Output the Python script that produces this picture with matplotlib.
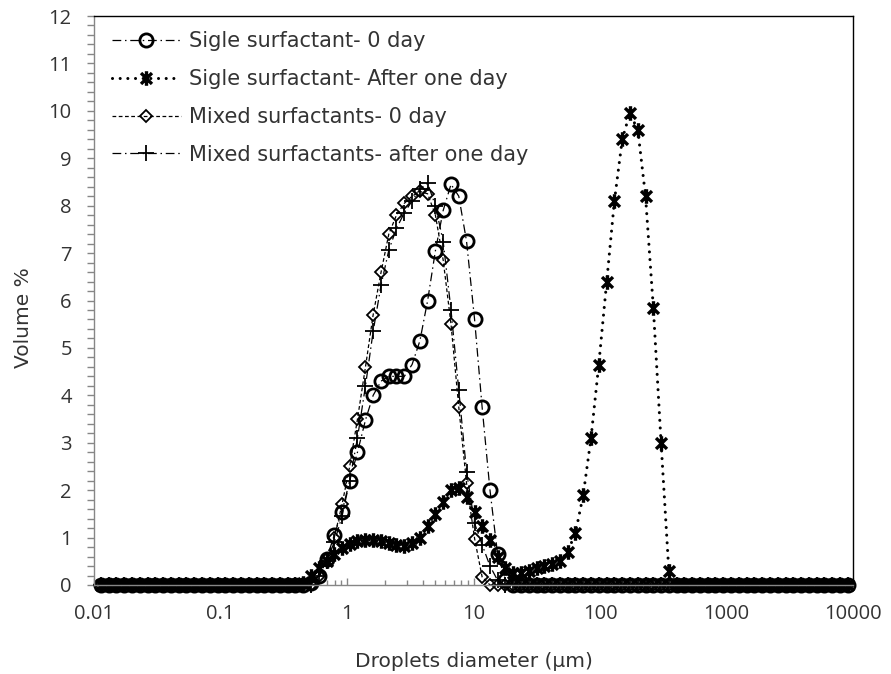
import matplotlib
matplotlib.use("Agg")
import matplotlib.pyplot as plt
from matplotlib.path import Path
from matplotlib import ticker

plt.rcParams['font.family'] = ['Open Sans', 'DejaVu Sans']

# size classes (um)
sizes = [0.0113, 0.0131, 0.0150, 0.0173, 0.0200, 0.0230, 0.0265, 0.0306, 0.0352, 0.0406,
         0.0467, 0.0538, 0.0620, 0.0715, 0.0823, 0.0948, 0.109, 0.126, 0.145, 0.167,
         0.193, 0.222, 0.256, 0.294, 0.339, 0.391, 0.450, 0.519, 0.598, 0.689,
         0.793, 0.914, 1.05, 1.21, 1.40, 1.61, 1.86, 2.14, 2.46, 2.84,
         3.27, 3.77, 4.34, 5.00, 5.76, 6.64, 7.65, 8.81, 10.2, 11.7,
         13.5, 15.5, 17.9, 20.6, 23.7, 27.4, 31.5, 36.3, 41.8, 48.2,
         55.5, 64.0, 73.7, 84.9, 97.8, 113, 130, 150, 172, 199,
         229, 264, 304, 350, 403, 465, 535, 617, 710, 818,
         943, 1086, 1252, 1442, 1662, 1914, 2206, 2541, 2928, 3373,
         3886, 4477, 5158, 5943, 6847, 7889, 9089]

single_0day = ([0.0] * 27 +
               [0.05, 0.2, 0.55, 1.05, 1.55, 2.2, 2.8, 3.48, 4.0, 4.3,
                4.4, 4.4, 4.4, 4.65, 5.15, 6.0, 7.05, 7.9, 8.45, 8.2,
                7.25, 5.6, 3.75, 2.0, 0.65, 0.1] +
               [0.0] * 44)
single_1day = ([0.0] * 26 +
               [0.05, 0.2, 0.35, 0.5, 0.65, 0.78, 0.87, 0.92, 0.95, 0.95,
                0.92, 0.88, 0.85, 0.83, 0.88, 1.0, 1.25, 1.5, 1.75, 2.0,
                2.05, 1.85, 1.55, 1.25, 0.95, 0.6, 0.35, 0.25, 0.25, 0.3,
                0.35, 0.4, 0.45, 0.5, 0.7, 1.1, 1.9, 3.1, 4.65, 6.4,
                8.1, 9.4, 9.95, 9.6, 8.2, 5.85, 3.0, 0.3] +
               [0.0] * 23)
mixed_0day = ([0.0] * 28 +
              [0.2, 0.55, 1.0, 1.7, 2.5, 3.5, 4.6, 5.7, 6.6, 7.4,
               7.8, 8.05, 8.2, 8.3, 8.25, 7.8, 6.85, 5.5, 3.75, 2.15,
               0.98, 0.17] +
              [0.0] * 47)
mixed_1day = ([0.0] * 28 +
              [0.2, 0.5, 0.9, 1.45, 2.2, 3.1, 4.2, 5.35, 6.33, 7.06,
               7.52, 7.85, 8.1, 8.35, 8.47, 8.0, 7.24, 5.8, 4.11, 2.39,
               1.3, 0.85, 0.4, 0.1] +
              [0.0] * 45)

labels = ['Sigle surfactant- 0 day', 'Sigle surfactant- After one day',
          'Mixed surfactants- 0 day', 'Mixed surfactants- after one day']
x_ticks = [0.01, 0.1, 1, 10, 100, 1000, 10000]

# Excel style star: X with a vertical bar
star = Path([(0, -1), (0, 1), (-0.75, -0.75), (0.75, 0.75), (-0.75, 0.75), (0.75, -0.75)],
            [Path.MOVETO, Path.LINETO, Path.MOVETO, Path.LINETO, Path.MOVETO, Path.LINETO])

fig = plt.figure(figsize=(8.91, 6.74), dpi=100)
ax = fig.add_axes([94 / 891, 89 / 674, 759 / 891, 569 / 674])

dashdot = (0, (7, 3, 1.2, 3))
ax.plot(sizes, single_0day, color='black', lw=0.9, ls=dashdot, marker='o', ms=9.5,
        mfc='none', mec='black', mew=2.0, clip_on=False, label=labels[0])
ax.plot(sizes, single_1day, color='black', lw=2.2, ls=(0, (0.01, 2.5)), dash_capstyle='round',
        marker=star, ms=10.5, mec='black', mew=2.4, clip_on=False, label=labels[1])
ax.plot(sizes, mixed_0day, color='black', lw=0.9, ls=(0, (3, 2)), marker='D', ms=6,
        mfc='none', mec='black', mew=1.3, clip_on=False, label=labels[2])
ax.plot(sizes, mixed_1day, color='black', lw=0.9, ls=dashdot, marker='+', ms=12,
        mec='black', mew=1.3, clip_on=False, label=labels[3])

ax.set_xscale('log')
ax.set_xlim(0.01, 10000)
ax.set_ylim(0, 12)
ax.set_xticks(x_ticks)
ax.xaxis.set_major_formatter(ticker.FuncFormatter(lambda v, p: f'{v:g}'))
ax.xaxis.set_minor_locator(ticker.LogLocator(base=10, subs=range(2, 10), numticks=20))
ax.xaxis.set_minor_formatter(ticker.NullFormatter())
ax.yaxis.set_major_locator(ticker.MultipleLocator(1))
ax.yaxis.set_minor_locator(ticker.MultipleLocator(0.2))

axis_gray = '#868686'
text_col = '#333333'
for side in ['top', 'right']:
    ax.spines[side].set_color('black')
    ax.spines[side].set_linewidth(1.0)
for side in ['left', 'bottom']:
    ax.spines[side].set_color(axis_gray)
    ax.spines[side].set_linewidth(1.0)

ax.tick_params(axis='x', which='major', direction='in', length=5, width=1, color=axis_gray,
               pad=14, labelsize=14.5, labelcolor=text_col)
ax.tick_params(axis='x', which='minor', direction='in', length=3.5, width=1, color=axis_gray)
ax.tick_params(axis='y', which='both', direction='out', length=5, width=1, color=axis_gray,
               pad=11, labelsize=14.5, labelcolor=text_col)

label_font = {'family': ['DejaVu Sans'], 'size': 14.5, 'color': text_col}
ax.set_xlabel('Droplets diameter (\u00b5m)', fontdict=label_font)
ax.xaxis.set_label_coords(0.5, -0.118)
ax.set_ylabel('Volume %', fontdict=label_font)
ax.yaxis.set_label_coords(-0.08, 0.47)

ax.legend(loc='upper left', bbox_to_anchor=(112 / 891, 1 - 31 / 674), bbox_transform=fig.transFigure,
          frameon=False, prop={'family': ['DejaVu Sans'], 'size': 15}, handlelength=3.3,
          handletextpad=0.38, labelspacing=0.86, borderpad=0, borderaxespad=0, labelcolor=text_col)

fig.savefig('out.png', dpi=100)
